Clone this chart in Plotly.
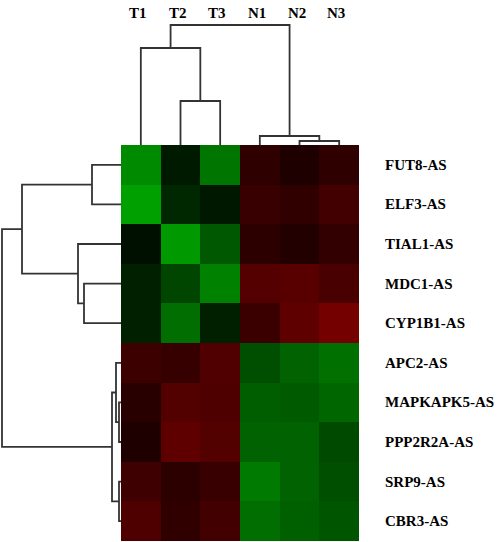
import plotly.graph_objects as go

# samples (columns) and genes (rows), in dendrogram order
samples = ["T1", "T2", "T3", "N1", "N2", "N3"]
genes = ["FUT8-AS", "ELF3-AS", "TIAL1-AS", "MDC1-AS", "CYP1B1-AS",
         "APC2-AS", "MAPKAPK5-AS", "PPP2R2A-AS", "SRP9-AS", "CBR3-AS"]

# relative expression (negative = green, positive = red)
fut8 = [-0.86, -0.16, -0.73, 0.29, 0.19, 0.29]
elf3 = [-1.00, -0.25, -0.15, 0.35, 0.30, 0.41]
tial1 = [-0.10, -0.96, -0.55, 0.28, 0.21, 0.31]
mdc1 = [-0.20, -0.43, -0.81, 0.53, 0.55, 0.45]
cyp1b1 = [-0.20, -0.69, -0.20, 0.36, 0.59, 0.73]
apc2 = [0.38, 0.34, 0.50, -0.49, -0.61, -0.70]
mapkapk5 = [0.25, 0.51, 0.49, -0.59, -0.56, -0.64]
ppp2r2a = [0.19, 0.59, 0.51, -0.61, -0.61, -0.46]
srp9 = [0.39, 0.28, 0.35, -0.76, -0.61, -0.49]
cbr3 = [0.49, 0.30, 0.41, -0.69, -0.60, -0.54]

# hierarchical clustering merges: (left, right, distance)
col_links = [("N2", "N3", 4), ("N1", 0, 9), ("T2", "T3", 44),
             ("T1", 2, 97), (3, 1, 120)]
row_links = [("FUT8-AS", "ELF3-AS", 29), ("MDC1-AS", "CYP1B1-AS", 37),
             ("TIAL1-AS", 1, 43), (0, 2, 99),
             ("MAPKAPK5-AS", "PPP2R2A-AS", 2), ("APC2-AS", 4, 5),
             ("SRP9-AS", "CBR3-AS", 2), (5, 6, 9), (3, 7, 119)]

W, H = 500, 542
LINE = dict(color="#333333", width=1.8)
FONT = dict(family="Times New Roman, Liberation Serif, serif", size=15, color="black")


def dendro_segments(leaves, links):
    # returns list of (pos list, height list) for each U link
    pos, hgt = {}, {}
    for i, name in enumerate(leaves):
        pos[name], hgt[name] = i, 0
    segs = []
    for k, (a, b, d) in enumerate(links):
        segs.append(([pos[a], pos[a], pos[b], pos[b]], [hgt[a], d, d, hgt[b]]))
        pos[k], hgt[k] = (pos[a] + pos[b]) / 2, d
    return segs


matrix = [fut8, elf3, tial1, mdc1, cyp1b1, apc2, mapkapk5, ppp2r2a, srp9, cbr3]

fig = go.Figure()
fig.add_trace(go.Heatmap(
    z=matrix, x=list(range(len(samples))), y=list(range(len(genes))),
    zmin=-1, zmax=1, showscale=False,
    colorscale=[[0, "rgb(0,160,0)"], [0.5, "rgb(0,0,0)"], [1, "rgb(160,0,0)"]],
    xaxis="x", yaxis="y"))

for xs, hs in dendro_segments(samples, col_links):
    fig.add_trace(go.Scatter(x=xs, y=hs, mode="lines", line=LINE,
                             xaxis="x2", yaxis="y2", showlegend=False, hoverinfo="skip"))
for ys, hs in dendro_segments(genes, row_links):
    fig.add_trace(go.Scatter(x=hs, y=ys, mode="lines", line=LINE,
                             xaxis="x3", yaxis="y3", showlegend=False, hoverinfo="skip"))

hx = [121 / W, 359 / W]
hy = [1 / H, 397 / H]
hide = dict(visible=False, showgrid=False, zeroline=False)
fig.update_layout(
    width=W, height=H, margin=dict(l=0, r=0, t=0, b=0),
    paper_bgcolor="white", plot_bgcolor="white", showlegend=False,
    xaxis=dict(domain=hx, range=[-0.5, 5.5], **hide),
    yaxis=dict(domain=hy, range=[9.5, -0.5], **hide),
    xaxis2=dict(domain=hx, range=[-0.5, 5.5], anchor="y2", **hide),
    yaxis2=dict(domain=[397 / H, 1], range=[0, 145], anchor="x2", **hide),
    xaxis3=dict(domain=[0, 121 / W], range=[121, 0], anchor="y3", **hide),
    yaxis3=dict(domain=hy, range=[9.5, -0.5], anchor="x3", **hide),
)

for i, s in enumerate(samples):
    fig.add_annotation(x=i, y=(H - 13) / H, xref="x", yref="paper", text=f"<b>{s}</b>",
                       showarrow=False, font=FONT, xanchor="center", yanchor="middle", xshift=-3)
for i, g in enumerate(genes):
    fig.add_annotation(x=383 / W, y=i, xref="paper", yref="y", text=f"<b>{g}</b>",
                       showarrow=False, font=FONT, xanchor="left", yanchor="middle")

# drop the browser's default page margin so the figure fills the window
fig.write_html("out.html", config={"displayModeBar": False},
               post_script="document.body.style.margin = '0';")
